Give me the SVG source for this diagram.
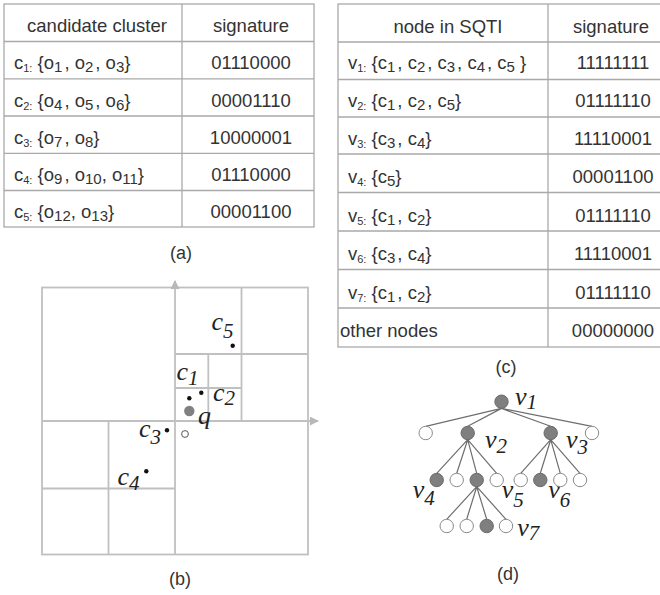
<svg xmlns="http://www.w3.org/2000/svg" width="660" height="595" viewBox="0 0 660 595">
<style>
.tb{fill:none;stroke:#a9a9a9;stroke-width:1.3}
.tx{font-family:"Liberation Sans",Arial,sans-serif;font-size:18.5px;fill:#333}
.mid{text-anchor:middle}
.cap{font-family:"Liberation Sans",Arial,sans-serif;font-size:18px;fill:#333;text-anchor:middle}
.grid{fill:none;stroke:#c0c0c0;stroke-width:1.8}
.lbl{font-family:"Liberation Serif","Times New Roman",serif;font-style:italic;font-size:26px;fill:#222}
.sub{font-size:21px}
.dot{fill:#111}
.edge{stroke:#6e6e6e;stroke-width:1.2;fill:none}
.ng{fill:#7f7f7f;stroke:#6a6a6a;stroke-width:1}
.nw{fill:#fff;stroke:#8a8a8a;stroke-width:1}
</style>
<defs>
<marker id="ah" viewBox="0 0 10 10" refX="9" refY="5" markerWidth="9" markerHeight="9" markerUnits="userSpaceOnUse" orient="auto">
<path d="M0,0 L10,5 L0,10 z" fill="#b8b8b8"/>
</marker>
</defs>

<!-- Table (a) -->
<g id="table-a">
<rect class="tb" x="4" y="4" width="310" height="223"/>
<line class="tb" x1="182" y1="4" x2="182" y2="227"/>
<line class="tb" x1="4" y1="41.5" x2="314" y2="41.5"/>
<line class="tb" x1="4" y1="78.8" x2="314" y2="78.8"/>
<line class="tb" x1="4" y1="116" x2="314" y2="116"/>
<line class="tb" x1="4" y1="153.3" x2="314" y2="153.3"/>
<line class="tb" x1="4" y1="190.5" x2="314" y2="190.5"/>
<text class="tx mid" x="97" y="32">candidate cluster</text>
<text class="tx mid" x="251" y="32">signature</text>
<text class="tx" x="14" y="69.3">c<tspan font-size="11" dy="3">1:</tspan><tspan dy="-3"> {o</tspan><tspan font-size="15" dy="3">1</tspan><tspan dy="-3" dx="2">, o</tspan><tspan font-size="15" dy="3">2</tspan><tspan dy="-3" dx="2">, o</tspan><tspan font-size="15" dy="3">3</tspan><tspan dy="-3">}</tspan></text>
<text class="tx mid" x="251" y="69.3">01110000</text>
<text class="tx" x="14" y="106.5">c<tspan font-size="11" dy="3">2:</tspan><tspan dy="-3"> {o</tspan><tspan font-size="15" dy="3">4</tspan><tspan dy="-3" dx="2">, o</tspan><tspan font-size="15" dy="3">5</tspan><tspan dy="-3" dx="2">, o</tspan><tspan font-size="15" dy="3">6</tspan><tspan dy="-3">}</tspan></text>
<text class="tx mid" x="251" y="106.5">00001110</text>
<text class="tx" x="14" y="143.7">c<tspan font-size="11" dy="3">3:</tspan><tspan dy="-3"> {o</tspan><tspan font-size="15" dy="3">7</tspan><tspan dy="-3" dx="2">, o</tspan><tspan font-size="15" dy="3">8</tspan><tspan dy="-3">}</tspan></text>
<text class="tx mid" x="251" y="143.7">10000001</text>
<text class="tx" x="14" y="181">c<tspan font-size="11" dy="3">4:</tspan><tspan dy="-3"> {o</tspan><tspan font-size="15" dy="3">9</tspan><tspan dy="-3" dx="2">, o</tspan><tspan font-size="15" dy="3">10</tspan><tspan dy="-3">, o</tspan><tspan font-size="15" dy="3">11</tspan><tspan dy="-3">}</tspan></text>
<text class="tx mid" x="251" y="181">01110000</text>
<text class="tx" x="14" y="218.2">c<tspan font-size="11" dy="3">5:</tspan><tspan dy="-3"> {o</tspan><tspan font-size="15" dy="3">12</tspan><tspan dy="-3">, o</tspan><tspan font-size="15" dy="3">13</tspan><tspan dy="-3">}</tspan></text>
<text class="tx mid" x="251" y="218.2">00001100</text>
<text class="cap" x="181" y="259">(a)</text>
</g>

<!-- Table (c) -->
<g id="table-c">
<rect class="tb" x="338" y="4" width="342" height="343"/>
<line class="tb" x1="548" y1="4" x2="548" y2="347"/>
<line class="tb" x1="338" y1="42" x2="680" y2="42"/>
<line class="tb" x1="338" y1="79.5" x2="680" y2="79.5"/>
<line class="tb" x1="338" y1="117" x2="680" y2="117"/>
<line class="tb" x1="338" y1="154" x2="680" y2="154"/>
<line class="tb" x1="338" y1="192.5" x2="680" y2="192.5"/>
<line class="tb" x1="338" y1="231" x2="680" y2="231"/>
<line class="tb" x1="338" y1="269.5" x2="680" y2="269.5"/>
<line class="tb" x1="338" y1="308" x2="680" y2="308"/>
<text class="tx mid" x="448" y="33">node in SQTI</text>
<text class="tx mid" x="611" y="33">signature</text>
<text class="tx" x="348" y="69">v<tspan font-size="11" dy="3">1:</tspan><tspan dy="-3"> {c</tspan><tspan font-size="15" dy="3">1</tspan><tspan dy="-3" dx="2">, c</tspan><tspan font-size="15" dy="3">2</tspan><tspan dy="-3" dx="2">, c</tspan><tspan font-size="15" dy="3">3</tspan><tspan dy="-3" dx="2">, c</tspan><tspan font-size="15" dy="3">4</tspan><tspan dy="-3" dx="2">, c</tspan><tspan font-size="15" dy="3">5</tspan><tspan dy="-3"> }</tspan></text>
<text class="tx mid" x="613" y="69">11111111</text>
<text class="tx" x="348" y="107">v<tspan font-size="11" dy="3">2:</tspan><tspan dy="-3"> {c</tspan><tspan font-size="15" dy="3">1</tspan><tspan dy="-3" dx="2">, c</tspan><tspan font-size="15" dy="3">2</tspan><tspan dy="-3" dx="2">, c</tspan><tspan font-size="15" dy="3">5</tspan><tspan dy="-3">}</tspan></text>
<text class="tx mid" x="613" y="107">01111110</text>
<text class="tx" x="348" y="145">v<tspan font-size="11" dy="3">3:</tspan><tspan dy="-3"> {c</tspan><tspan font-size="15" dy="3">3</tspan><tspan dy="-3" dx="2">, c</tspan><tspan font-size="15" dy="3">4</tspan><tspan dy="-3">}</tspan></text>
<text class="tx mid" x="613" y="145">11110001</text>
<text class="tx" x="348" y="183">v<tspan font-size="11" dy="3">4:</tspan><tspan dy="-3"> {c</tspan><tspan font-size="15" dy="3">5</tspan><tspan dy="-3">}</tspan></text>
<text class="tx mid" x="613" y="183">00001100</text>
<text class="tx" x="348" y="221.5">v<tspan font-size="11" dy="3">5:</tspan><tspan dy="-3"> {c</tspan><tspan font-size="15" dy="3">1</tspan><tspan dy="-3" dx="2">, c</tspan><tspan font-size="15" dy="3">2</tspan><tspan dy="-3">}</tspan></text>
<text class="tx mid" x="613" y="221.5">01111110</text>
<text class="tx" x="348" y="260">v<tspan font-size="11" dy="3">6:</tspan><tspan dy="-3"> {c</tspan><tspan font-size="15" dy="3">3</tspan><tspan dy="-3" dx="2">, c</tspan><tspan font-size="15" dy="3">4</tspan><tspan dy="-3">}</tspan></text>
<text class="tx mid" x="613" y="260">11110001</text>
<text class="tx" x="348" y="298.5">v<tspan font-size="11" dy="3">7:</tspan><tspan dy="-3"> {c</tspan><tspan font-size="15" dy="3">1</tspan><tspan dy="-3" dx="2">, c</tspan><tspan font-size="15" dy="3">2</tspan><tspan dy="-3">}</tspan></text>
<text class="tx mid" x="613" y="298.5">01111110</text>
<text class="tx" x="340" y="337">other nodes</text>
<text class="tx mid" x="613" y="337">00000000</text>
<text class="cap" x="506" y="373">(c)</text>
</g>

<!-- Figure (b): quadtree -->
<g id="quadtree">
<rect class="grid" x="42" y="287.5" width="266" height="267"/>
<line class="grid" x1="175" y1="555" x2="175" y2="281" marker-end="url(#ah)"/>
<line class="grid" x1="42" y1="421" x2="318" y2="421" marker-end="url(#ah)"/>
<line class="grid" x1="241.5" y1="287.5" x2="241.5" y2="421"/>
<line class="grid" x1="175" y1="354" x2="308" y2="354"/>
<line class="grid" x1="208.3" y1="354" x2="208.3" y2="421"/>
<line class="grid" x1="175" y1="388" x2="241.5" y2="388"/>
<line class="grid" x1="108.5" y1="421" x2="108.5" y2="555"/>
<line class="grid" x1="42" y1="488.5" x2="175" y2="488.5"/>
</g>
<g id="points">
<circle class="dot" cx="232.7" cy="345.7" r="2.2"/>
<circle class="dot" cx="189.3" cy="398.3" r="2.2"/>
<circle class="dot" cx="201.3" cy="392.7" r="2.2"/>
<circle class="dot" cx="167" cy="430.3" r="2.2"/>
<circle class="dot" cx="146.3" cy="471.3" r="2.2"/>
<circle cx="189.3" cy="411" r="5.2" fill="#808080"/>
<circle cx="185" cy="434" r="3.4" fill="#fff" stroke="#555" stroke-width="1"/>
<text class="lbl" x="211.5" y="330">c<tspan class="sub" dy="8">5</tspan></text>
<text class="lbl" x="176.5" y="380">c<tspan class="sub" dy="5">1</tspan></text>
<text class="lbl" x="213" y="400.5">c<tspan class="sub" dy="4">2</tspan></text>
<text class="lbl" x="198" y="423.5">q</text>
<text class="lbl" x="139" y="436.5">c<tspan class="sub" dy="7">3</tspan></text>
<text class="lbl" x="117.5" y="485">c<tspan class="sub" dy="5">4</tspan></text>
<text class="cap" x="180" y="585">(b)</text>
</g>

<!-- Figure (d): tree -->
<g id="tree-edges">
<path class="edge" d="M501.5,408.4 L425.7,426.3 M501.5,408.4 L467.7,426.3 M501.5,408.4 L550.7,426.3 M501.5,408.4 L592,426.3"/>
<path class="edge" d="M467.7,439.7 L436.7,473.3 M467.7,439.7 L456.7,473.3 M467.7,439.7 L476.7,473.3 M467.7,439.7 L496.7,473.3"/>
<path class="edge" d="M550.7,439.7 L520.7,473.3 M550.7,439.7 L540.3,473.3 M550.7,439.7 L560.3,473.3 M550.7,439.7 L580,473.3"/>
<path class="edge" d="M476.7,486.7 L446.7,519.3 M476.7,486.7 L466.7,519.3 M476.7,486.7 L486.7,519.3 M476.7,486.7 L506,519.3"/>
</g>
<g id="v1"><circle class="ng" cx="501.5" cy="401.7" r="6.7"/><text class="lbl" x="515" y="405">v<tspan class="sub" dy="4">1</tspan></text></g>
<g id="n2a"><circle class="nw" cx="425.7" cy="433" r="6.7"/></g>
<g id="v2"><circle class="ng" cx="467.7" cy="433" r="6.7"/><text class="lbl" x="485" y="448">v<tspan class="sub" dy="5">2</tspan></text></g>
<g id="v3"><circle class="ng" cx="550.7" cy="433" r="6.7"/><text class="lbl" x="566" y="448">v<tspan class="sub" dy="6">3</tspan></text></g>
<g id="n2d"><circle class="nw" cx="592" cy="433" r="6.7"/></g>
<g id="v4"><circle class="ng" cx="436.7" cy="480" r="6.7"/><text class="lbl" x="412.7" y="498">v<tspan class="sub" dy="7">4</tspan></text></g>
<g id="n3b"><circle class="nw" cx="456.7" cy="480" r="6.7"/></g>
<g id="v5"><circle class="ng" cx="476.7" cy="480" r="6.7"/><text class="lbl" x="501.7" y="498">v<tspan class="sub" dy="9">5</tspan></text></g>
<g id="n3d"><circle class="nw" cx="496.7" cy="480" r="6.7"/></g>
<g id="n3e"><circle class="nw" cx="520.7" cy="480" r="6.7"/></g>
<g id="v6"><circle class="ng" cx="540.3" cy="480" r="6.7"/><text class="lbl" x="548.3" y="498">v<tspan class="sub" dy="9">6</tspan></text></g>
<g id="n3g"><circle class="nw" cx="560.3" cy="480" r="6.7"/></g>
<g id="n3h"><circle class="nw" cx="580" cy="480" r="6.7"/></g>
<g id="n4a"><circle class="nw" cx="446.7" cy="526" r="6.7"/></g>
<g id="n4b"><circle class="nw" cx="466.7" cy="526" r="6.7"/></g>
<g id="v7"><circle class="ng" cx="486.7" cy="526" r="6.7"/><text class="lbl" x="517.3" y="536">v<tspan class="sub" dy="4">7</tspan></text></g>
<g id="n4d"><circle class="nw" cx="506" cy="526" r="6.7"/></g>
<text class="cap" x="508" y="580">(d)</text>
</svg>
